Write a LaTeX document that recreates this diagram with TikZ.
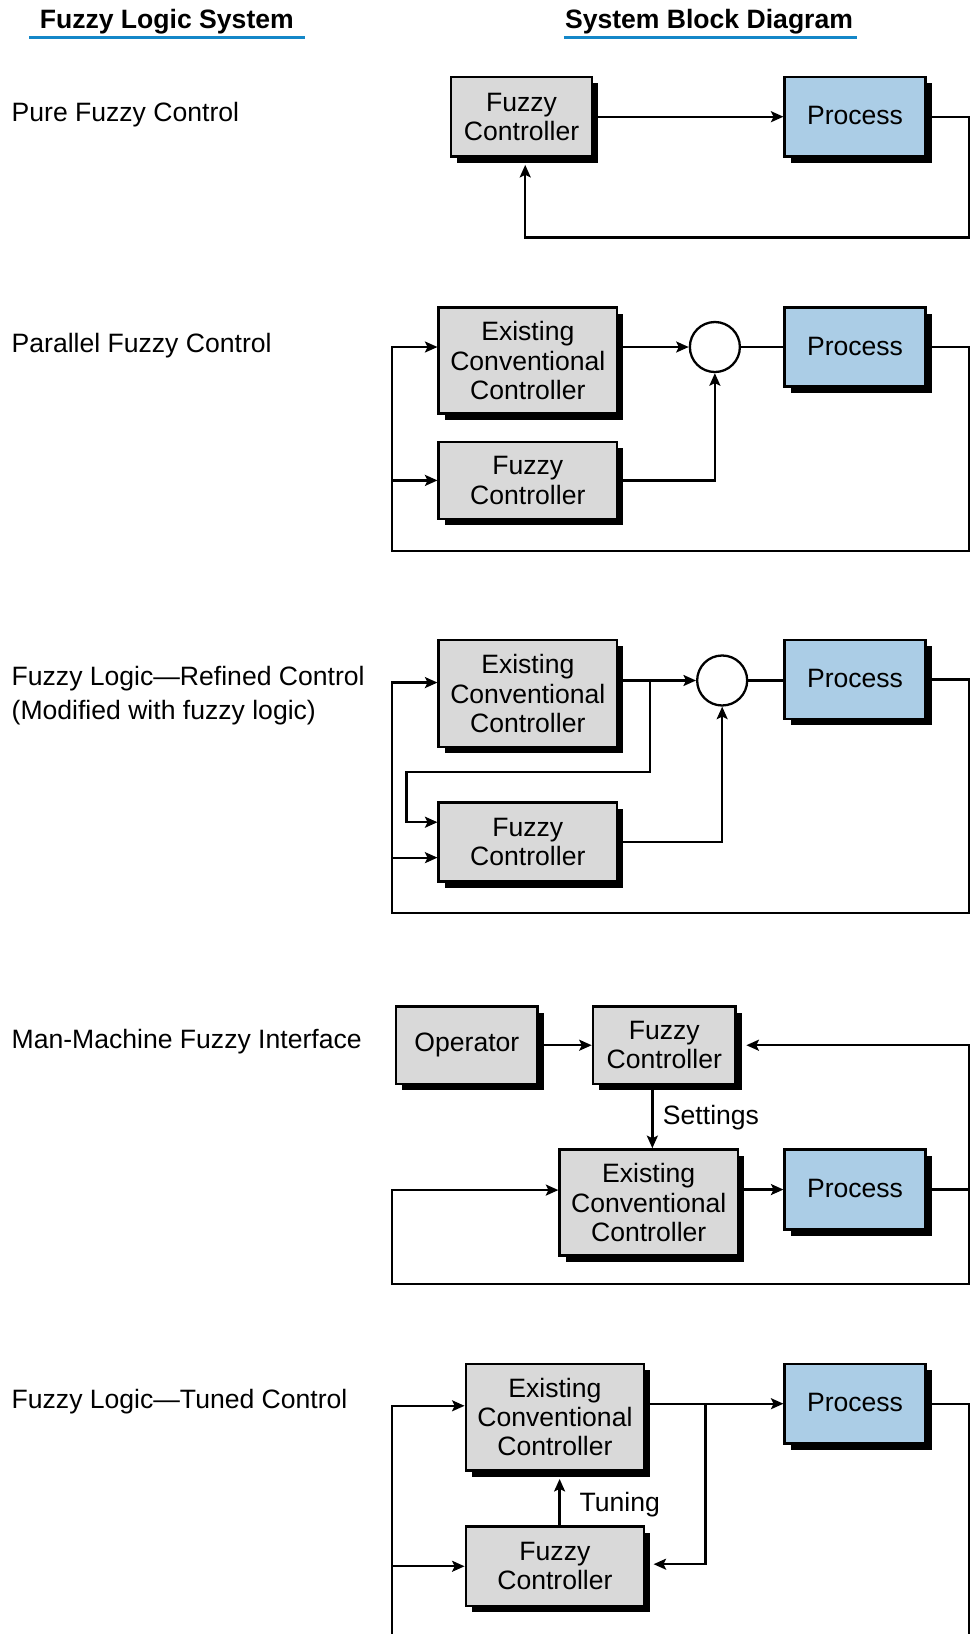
\documentclass[tikz,border=0pt]{standalone}
\usepackage{fontspec}
\setmainfont{Liberation Sans}
\usetikzlibrary{shadows,calc,arrows.meta}
\definecolor{boxgray}{RGB}{217,217,217}
\definecolor{procblue}{RGB}{171,205,230}
\definecolor{ulblue}{RGB}{20,135,200}
\begin{document}
\begin{tikzpicture}[x=1pt,y=-1pt,
  font=\fontsize{25.5}{28}\selectfont,
  blk/.style={draw=black,line width=2.4pt,fill=boxgray,align=center,inner sep=0pt,
    drop shadow={shadow xshift=6pt,shadow yshift=-6pt,opacity=1,fill=black}},
  ctl/.style={blk,minimum width=135pt,minimum height=76pt},
  fctl/.style={blk,minimum width=171pt,minimum height=76pt},
  ecc/.style={blk,minimum width=171pt,minimum height=102pt},
  proc/.style={blk,fill=procblue,minimum width=135pt,minimum height=76pt},
  sumc/.style={circle,draw,line width=2.2pt,fill=white,minimum size=48pt,inner sep=0pt},
  arr/.style={line width=2.2pt,-{Stealth[length=12pt,width=10.5pt,inset=2.5pt]}},
  ln/.style={line width=2.2pt},
  lbl/.style={anchor=base west,inner sep=0pt},
  ttl/.style={lbl,font=\fontsize{25.5}{28}\selectfont\bfseries},
  ul/.style={draw=ulblue,line width=2.5pt},
]
\useasboundingbox (0,0) rectangle (932,1568);

% titles
\node[ttl] (t1) at (38,27) {Fuzzy Logic System};
\node[ttl] (t2) at (542,27) {System Block Diagram};
\coordinate (u1a) at (28,36); \coordinate (u1b) at (293,36);
\coordinate (u2a) at (541,36); \coordinate (u2b) at (822,36);
\draw[ul] (u1a) -- (u1b);
\draw[ul] (u2a) -- (u2b);

% left labels
\node[lbl] (l1) at (11,117) {Pure Fuzzy Control};
\node[lbl] (l2) at (11,338) {Parallel Fuzzy Control};
\node[lbl] (l3) at (11,658) {Fuzzy Logic—Refined Control};
\node[lbl] (l3b) at (11,690) {(Modified with fuzzy logic)};
\node[lbl] (l4) at (11,1006) {Man-Machine Fuzzy Interface};
\node[lbl] (l5) at (11,1352) {Fuzzy Logic—Tuned Control};

% ---------- diagram 1
\node[ctl] (f1) at (500.5,112) {\raisebox{1pt}{\parbox{130pt}{\centering Fuzzy\\Controller}}};
\node[proc] (p1) at (820.5,112) {\raisebox{2pt}{Process}};
\draw[arr] (f1.east) -- (p1.west);
\coordinate (fb1) at (930,228);
\draw[arr] (p1.east) -| (fb1) -| ($(f1.south)+(3.5,7)$);

% ---------- diagram 2
\node[ecc] (e2) at (506.5,346) {Existing\\Conventional\\Controller};
\node[sumc] (c2) at (686,333) {};
\node[proc] (p2) at (820.5,333) {\raisebox{2pt}{Process}};
\node[fctl,minimum height=74pt] (f2) at (506.5,461) {Fuzzy\\Controller};
\draw[arr] (e2.east |- c2) -- (c2.west);
\draw[arr] (f2.east) -| (c2.south);
\draw[ln] (c2.east) -- (p2.west);
\coordinate (R2) at (930,529);
\coordinate (L2) at (376,529);
\draw[arr] (p2.east) -| (R2) -- (L2) |- (e2.west |- c2);
\draw[arr] (L2 |- f2.west) -- (f2.west);

% ---------- diagram 3
\node[ecc,minimum height=103pt] (e3) at (506.5,665.5) {Existing\\Conventional\\Controller};
\node[sumc] (c3) at (693,653) {};
\node[proc] (p3) at (820.5,652) {\raisebox{2pt}{Process}};
\node[fctl] (f3) at (506.5,808) {Fuzzy\\Controller};
\draw[arr] (e3.east |- c3) -- (c3.west);
\coordinate (B3) at (624,653);
\coordinate (K3) at (390,741);
\coordinate (F3a) at ($(f3.west)+(0,-19)$);
\draw[arr] (B3) |- (K3) |- (F3a);
\draw[arr] (f3.east) -| (c3.south);
\draw[ln] (c3.east) -- (c3.east -| p3.west);
\coordinate (R3) at (930,876);
\coordinate (L3) at (376,876);
\draw[arr] (p3.east) -| (R3) -- (L3) |- ($(e3.west)+(0,-10.5)$);
\coordinate (F3b) at ($(f3.west)+(0,15)$);
\draw[arr] (L3 |- F3b) -- (F3b);

% ---------- diagram 4
\node[blk,minimum width=136pt,minimum height=74pt] (op) at (448,1003) {Operator};
\node[blk,minimum width=137pt,minimum height=74pt] (f4) at (637.5,1003) {Fuzzy\\Controller};
\node[ecc] (e4) at (622.5,1154) {Existing\\Conventional\\Controller};
\node[proc,minimum height=77pt] (p4) at (820.5,1141.5) {\raisebox{2pt}{Process}};
\draw[arr] (op.east) -- (f4.west);
\coordinate (S4) at ($(f4.south)+(-11.5,0)$);
\draw[arr] (S4) -- (S4 |- e4.north);
\node[lbl] (set) at (636,1079) {Settings};
\draw[arr] (p4.west -| e4.east) -- (p4.west);
\coordinate (R4t) at (930,1003);
\coordinate (R4b) at (930,1232);
\coordinate (L4) at (376,1232);
\draw[arr] (p4.east) -- (p4.east -| R4t) -- (R4t) -- ($(f4.east)+(9,0)$);
\draw[arr] (p4.east -| R4b) -- (R4b) -- (L4) |- ($(e4.west)+(0,-12)$);

% ---------- diagram 5
\node[ecc] (e5) at (532.5,1360) {Existing\\Conventional\\Controller};
\node[proc] (p5) at (820.5,1347) {\raisebox{2pt}{Process}};
\node[fctl] (f5) at (532.5,1503) {\raisebox{2pt}{\parbox{160pt}{\centering Fuzzy\\Controller}}};
\draw[arr] (e5.east |- p5) -- (p5.west);
\coordinate (B5) at (677,1347);
\draw[arr] (B5) |- ($(f5.east)+(8,-2)$);
\coordinate (T5) at ($(f5.north)+(4.5,0)$);
\draw[arr] (T5) -- ($(e5.south)+(4.5,7)$);
\node[lbl] (tun) at (556,1450) {Tuning};
\coordinate (R5) at (930,1568);
\coordinate (L5) at (376,1568);
\draw[ln] (p5.east) -| (R5);
\draw[arr] (L5) |- ($(e5.west)+(0,-11)$);
\draw[arr] (L5 |- f5.west) -- (f5.west);
\end{tikzpicture}
\end{document}
